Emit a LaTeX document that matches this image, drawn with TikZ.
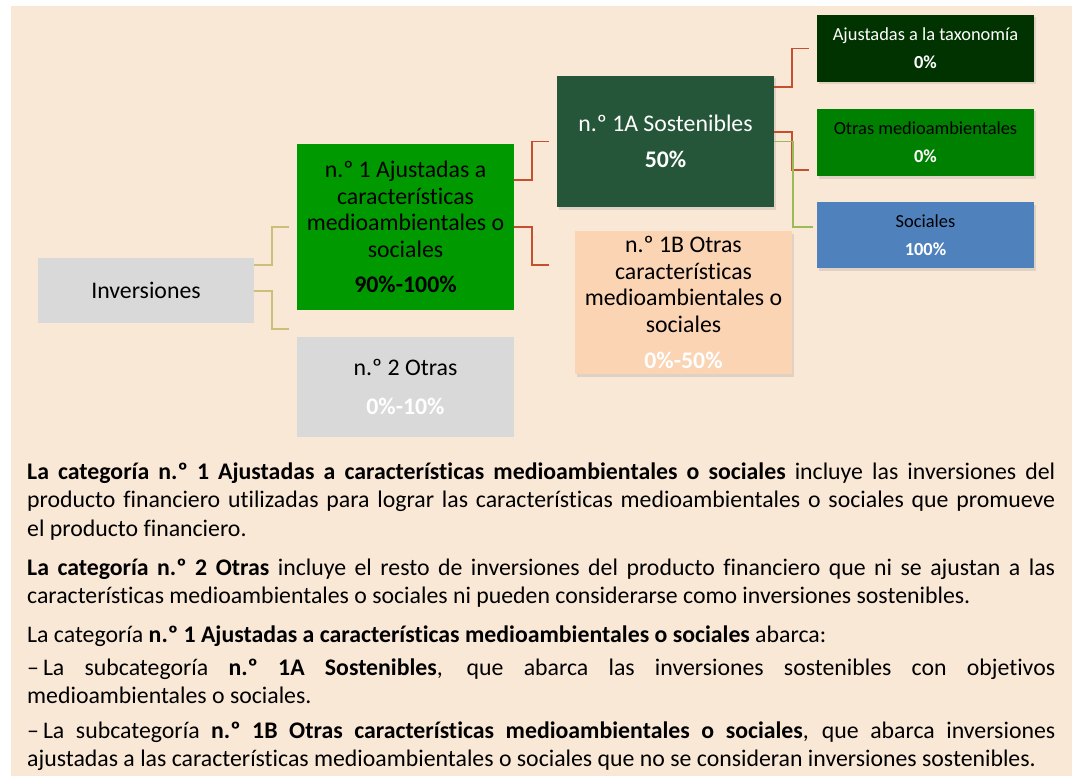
\documentclass[tikz,border=0pt]{standalone}
\usepackage{fontspec}
\setmainfont[Ligatures=NoCommon]{Carlito}
\usetikzlibrary{calc,shadows}
\definecolor{paper}{HTML}{FAE8D7}
\definecolor{greyb}{HTML}{D9D9D9}
\definecolor{leaf}{HTML}{009A00}
\definecolor{pine}{HTML}{26563A}
\definecolor{peach}{HTML}{FBD4B4}
\definecolor{forest}{HTML}{003300}
\definecolor{grass}{HTML}{008000}
\definecolor{sky}{HTML}{4F81BD}
\definecolor{brick}{HTML}{C5502F}
\definecolor{khaki}{HTML}{CCBF7A}
\definecolor{olive}{HTML}{9BBB59}
\hyphenpenalty=10000
\exhyphenpenalty=10000

\begin{document}
\begin{tikzpicture}[x=1pt,y=-1pt,
  box/.style={inner sep=0pt,outer sep=0pt,minimum width=217pt,align=center,
    font=\fontsize{23.8}{26.5}\selectfont},
  small/.style={box,minimum height=67pt,font=\fontsize{18.4}{22}\selectfont},
  shade/.style={drop shadow={shadow xshift=2pt,shadow yshift=-2.5pt,opacity=.22}},
  link/.style={line width=1.8pt},
  para/.style={anchor=base west,inner sep=0pt,text width=1028pt,align=justify,
    font=\fontsize{23.8}{28.7}\selectfont}]
  \fill[white] (0,0) rectangle (1072,776);
  \fill[paper] (11,6) rectangle (1072,776);

  \node[box,fill=greyb,minimum width=216pt,minimum height=65pt] (inv)
    at (146,290.5) {Inversiones};
  \node[box,fill=leaf,minimum height=166pt] (n1) at (405.5,227)
    {n.º 1 Ajustadas a\\características\\medioambientales o\\sociales\\[8.5pt]
     \textbf{90\%-100\%}};
  \node[box,fill=greyb,minimum height=100pt] (n2) at (405.5,387)
    {n.º 2 Otras\\[12.5pt]\textcolor{white}{\textbf{0\%-10\%}}};
  \node[box,shade,fill=pine,text=white,minimum height=131pt] (s1a)
    at (665.5,141.5) {n.º 1A Sostenibles\\[9.5pt]\textbf{50\%}};
  \node[box,shade,fill=peach,minimum height=143pt] (s1b) at (683.5,302.5)
    {n.º 1B Otras\\características\\medioambientales o\\sociales\\[10pt]
     \textcolor{white}{\textbf{0\%-50\%}}};
  \node[small,shade,fill=forest,text=white] (tax) at (925.5,48.5)
    {Ajustadas a la taxonomía\\[6pt]\textbf{0\%}};
  \node[small,shade,fill=grass] (oma) at (925.5,142.5)
    {Otras medioambientales\\[6pt]\textcolor{white}{\textbf{0\%}}};
  \node[small,shade,fill=sky,minimum height=66pt] (soc) at (925.5,235)
    {Sociales\\[6pt]\textcolor{white}{\textbf{100\%}}};

  \draw[link,khaki] ($(inv.east)+(0,-25.5)$) -- ++(18,0) |- ($(n1.west)+(-8,0)$);
  \draw[link,khaki] ($(inv.east)+(0,.5)$) -- ++(18,0) |- ($(n2.north west)+(-8,-8)$);
  \draw[link,brick] ($(n1.east)+(0,-47)$) -- ++(18,0) |- ($(s1a.west)+(-8,0)$);
  \draw[link,brick] (n1.east) -- ++(18,0) |- ($(s1b.north west)+(-26,34)$);
  \draw[link,brick] ($(s1a.east)+(0,-54.5)$) -- ++(18,0) |- ($(tax.west)+(-8,0)$);
  \draw[link,brick] ($(s1a.east)+(0,-9.5)$) -- ++(18,0) |- ($(oma.west)+(-8,27.5)$);
  \draw[link,olive] (s1a.east) -- ++(19,0) |- ($(soc.west)+(-4,-8)$);

  \node[para] (p1) at (27,479)
    {\textbf{La categoría n.º 1 Ajustadas a características medioambientales o sociales}
     incluye las inversiones del\linebreak producto financiero utilizadas para lograr las
     características medioambientales o sociales que promueve\linebreak el producto
     financiero.};
  \node[para] (p2) at (27,575)
    {\textbf{La categoría n.º 2 Otras} incluye el resto de inversiones del producto
     financiero que ni se ajustan a las\linebreak características medioambientales o
     sociales ni pueden considerarse como inversiones sostenibles.};
  \node[para] (p3) at (27,642)
    {La categoría \textbf{n.º 1 Ajustadas a características medioambientales o sociales}
     abarca:};
  \node[para] (p4) at (27,675)
    {–\,La subcategoría \textbf{n.º 1A Sostenibles}, que abarca las inversiones
     sostenibles con objetivos\linebreak medioambientales o sociales.};
  \node[para] (p5) at (27,738)
    {–\,La subcategoría \textbf{n.º 1B Otras características medioambientales o sociales},
     que abarca inversiones\linebreak ajustadas a las características medioambientales o
     sociales que no se consideran inversiones sostenibles.};
\end{tikzpicture}
\end{document}
